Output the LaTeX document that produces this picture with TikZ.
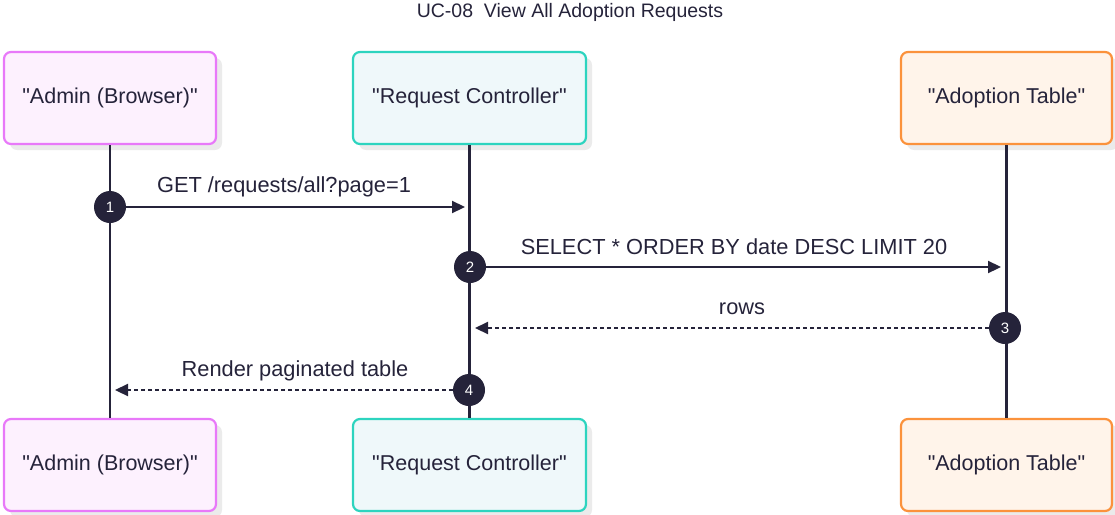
\documentclass[tikz,border=0pt]{standalone}
\usepackage{fontspec}
\setmainfont{Liberation Sans}
\newfontfamily\plainsans{Liberation Sans}
\usetikzlibrary{arrows.meta,shadows}
\definecolor{ink}{HTML}{25233A}
\definecolor{adminline}{HTML}{E879F9}
\definecolor{adminfill}{HTML}{FDF1FE}
\definecolor{ctrlline}{HTML}{2DD4BF}
\definecolor{ctrlfill}{HTML}{EFF8FA}
\definecolor{tableline}{HTML}{FB923C}
\definecolor{tablefill}{HTML}{FFF4EA}
\tikzset{
  actor/.style={rounded corners=7pt, line width=2.2pt, minimum height=92pt,
    font=\plainsans\fontsize{21.5}{25}\selectfont, text=ink,
    drop shadow={shadow xshift=6pt, shadow yshift=-6pt, fill=black!8, opacity=1}},
  lifeline/.style={ink, line width=2.2pt},
  msg/.style={ink, line width=2.2pt, -{Triangle[length=13pt,width=12pt]}},
  reply/.style={msg, dash pattern=on 4pt off 3pt},
  seqnum/.style={circle, fill=ink, inner sep=0pt, minimum size=32pt, text=white,
    font=\plainsans\fontsize{15}{17}\selectfont},
  msglabel/.style={font=\plainsans\fontsize{21.8}{25}\selectfont, text=ink}
}
\begin{document}
\begin{tikzpicture}[x=1pt,y=1pt]
  \useasboundingbox (0,0) rectangle (1115,-514);
  % title
  \node[font=\plainsans\fontsize{19.5}{22}\selectfont, text=ink] (title) at (570,-12) {UC-08\ \ View All Adoption Requests};
  % participants
  \node[actor, draw=adminline, fill=adminfill, minimum width=212pt] (admintop) at (110,-98) {"Admin (Browser)"};
  \node[actor, draw=ctrlline, fill=ctrlfill, minimum width=233pt] (ctrltop) at (469.5,-98) {"Request Controller"};
  \node[actor, draw=tableline, fill=tablefill, minimum width=211pt] (tabletop) at (1006.5,-98) {"Adoption Table"};
  \node[actor, draw=adminline, fill=adminfill, minimum width=212pt] (adminbot) at (110,-465) {"Admin (Browser)"};
  \node[actor, draw=ctrlline, fill=ctrlfill, minimum width=233pt] (ctrlbot) at (469.5,-465) {"Request Controller"};
  \node[actor, draw=tableline, fill=tablefill, minimum width=211pt] (tablebot) at (1006.5,-465) {"Adoption Table"};
  % lifelines
  \draw[lifeline] (admintop.south) -- (adminbot.north);
  \draw[lifeline] (ctrltop.south) -- (ctrlbot.north);
  \draw[lifeline] (tabletop.south) -- (tablebot.north);
  % messages
  \node[seqnum] (n1) at (110,-207) {1};
  \coordinate (e1) at (465,-207);
  \draw[msg] (n1) -- (e1);
  \node[msglabel] (l1) at (284,-187) {GET /requests/all?page=1};
  \node[seqnum] (n2) at (470,-267) {2};
  \coordinate (e2) at (1001,-267);
  \draw[msg] (n2) -- (e2);
  \node[msglabel] (l2) at (734,-247) {SELECT * ORDER BY date DESC LIMIT 20};
  \node[seqnum] (n3) at (1005,-328) {3};
  \coordinate (e3) at (475,-328);
  \draw[reply] (n3) -- (e3);
  \node[msglabel] (l3) at (742,-309) {rows};
  \node[seqnum] (n4) at (469,-390) {4};
  \coordinate (e4) at (115,-390);
  \draw[reply] (n4) -- (e4);
  \node[msglabel] (l4) at (295,-371) {Render paginated table};
\end{tikzpicture}
\end{document}
